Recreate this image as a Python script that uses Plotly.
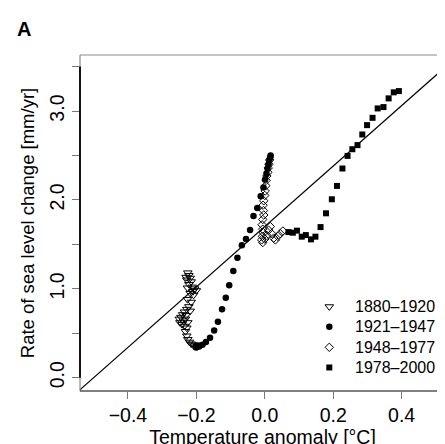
import plotly.graph_objects as go

# ---------------- data ----------------
# 1880-1920 (open down-triangles)
t1_x = [-0.225, -0.222, -0.218, -0.228, -0.215, -0.222, -0.212, -0.205, -0.210, -0.200,
        -0.218, -0.208, -0.230, -0.226,
        -0.222, -0.228, -0.218, -0.235, -0.240, -0.230, -0.245, -0.250, -0.238, -0.248,
        -0.242, -0.235, -0.228, -0.225, -0.232,
        -0.232, -0.228, -0.225, -0.220, -0.215, -0.210, -0.205, -0.198, -0.194, -0.188,
        -0.226, -0.215]
t1_y = [1.18, 1.15, 1.12, 1.10, 1.08, 1.05, 1.02, 1.00, 0.97, 0.98,
        0.95, 0.93, 1.13, 1.01,
        0.80, 0.77, 0.75, 0.74, 0.71, 0.70, 0.68, 0.66, 0.64, 0.62,
        0.60, 0.58, 0.56, 0.62, 0.66,
        0.52, 0.47, 0.43, 0.40, 0.38, 0.37, 0.36, 0.35, 0.36, 0.37,
        0.88, 0.85]

# 1921-1947 (filled circles)
t2_x = [-0.201, -0.192, -0.182, -0.172, -0.160, -0.148, -0.137, -0.125, -0.114, -0.104,
        -0.092, -0.080, -0.067, -0.055, -0.043, -0.033, -0.022, -0.012, -0.004, 0.001,
        0.005, 0.008, 0.011, 0.013, 0.015, 0.017, 0.016]
t2_y = [0.34, 0.35, 0.37, 0.40, 0.45, 0.53, 0.63, 0.77, 0.90, 1.04,
        1.20, 1.35, 1.49, 1.56, 1.66, 1.82, 1.91, 2.04, 2.14, 2.23,
        2.29, 2.35, 2.40, 2.44, 2.47, 2.50, 2.48]

# 1948-1977 (open diamonds)
t3_x = [0.014, 0.012, 0.010, 0.009, 0.006, 0.004, 0.003, 0.001, 0.000, -0.003,
        -0.005, -0.004, -0.003, -0.006, -0.008, -0.006, -0.004, -0.007, -0.009, -0.006,
        0.000, 0.006, 0.011, 0.016, 0.020, 0.026, 0.031, 0.038, 0.045, 0.053]
t3_y = [2.45, 2.40, 2.36, 2.31, 2.27, 2.22, 2.16, 2.10, 2.05, 1.99,
        1.94, 1.88, 1.83, 1.78, 1.72, 1.67, 1.63, 1.59, 1.55, 1.52,
        1.56, 1.60, 1.66, 1.70, 1.62, 1.57, 1.55, 1.59, 1.62, 1.65]

# 1978-2000 (filled squares)
t4_x = [0.069, 0.082, 0.094, 0.108, 0.120, 0.135, 0.148, 0.163, 0.179, 0.196,
        0.211, 0.227, 0.242, 0.256, 0.271, 0.285, 0.299, 0.315, 0.330, 0.347,
        0.362, 0.377, 0.392]
t4_y = [1.638, 1.631, 1.654, 1.586, 1.604, 1.556, 1.586, 1.694, 1.849, 2.007,
        2.157, 2.353, 2.495, 2.570, 2.616, 2.736, 2.841, 2.923, 3.029, 3.044,
        3.142, 3.210, 3.224]

# fitted line endpoints
fit_x = [-0.60, 0.60]
fit_y = [-0.34, 3.74]

series_names = ["1880\u20131920", "1921\u20131947", "1948\u20131977", "1978\u20132000"]

x_tick_vals = [-0.4, -0.2, 0.0, 0.2, 0.4]
y_tick_vals = [0.0, 0.5, 1.0, 1.5, 2.0, 2.5, 3.0, 3.5]
y_tick_text = ["0.0", "", "1.0", "", "2.0", "", "3.0", ""]

# ---------------- styling ----------------
FONT = "Liberation Sans, Arial, Helvetica, sans-serif"
styles = [
    dict(symbol="triangle-down-open", size=7.5, color="black", line=dict(width=1, color="black")),
    dict(symbol="circle", size=6.5, color="black"),
    dict(symbol="diamond-open", size=6.5, color="black", line=dict(width=1, color="black")),
    dict(symbol="square", size=6, color="black"),
]
data_sets = [(t1_x, t1_y), (t2_x, t2_y), (t3_x, t3_y), (t4_x, t4_y)]

fig = go.Figure()

fig.add_trace(go.Scatter(x=fit_x, y=fit_y, mode="lines",
                         line=dict(color="black", width=1.2), showlegend=False,
                         hoverinfo="skip"))

for (xs, ys), st, nm in zip(data_sets, styles, series_names):
    fig.add_trace(go.Scatter(x=xs, y=ys, mode="markers", name=nm,
                             marker=st, showlegend=False))

# manual legend on an overlay axis (0..1 in both directions)
leg_marker_x = 0.683
leg_text_x = 0.748
leg_rows_y = [0.251, 0.191, 0.130, 0.070]
for st, nm, yy in zip(styles, series_names, leg_rows_y):
    fig.add_trace(go.Scatter(x=[leg_marker_x], y=[yy], mode="markers", marker=st,
                             xaxis="x2", yaxis="y2", showlegend=False, hoverinfo="skip"))
    fig.add_annotation(x=leg_text_x, y=yy, xref="paper", yref="paper", text=nm,
                       showarrow=False, xanchor="left", yanchor="middle",
                       font=dict(family=FONT, size=16, color="black"))

# panel letter
fig.add_annotation(x=-0.178, y=1.116, xref="paper", yref="paper", text="<b>A</b>",
                   showarrow=False, xanchor="left", yanchor="top",
                   font=dict(family=FONT, size=20, color="black"))

# frame (grey) and R-style black axis lines
fig.add_shape(type="line", xref="paper", yref="paper", x0=0, x1=1.02, y0=1, y1=1,
              line=dict(color="#8a8a8a", width=1.2))
fig.add_shape(type="line", xref="paper", yref="paper", x0=0, x1=0, y0=0, y1=1,
              line=dict(color="#8a8a8a", width=1.2))
fig.add_shape(type="line", xref="paper", yref="paper", x0=0, x1=1.02, y0=0, y1=0,
              line=dict(color="black", width=1.2))
fig.add_shape(type="line", xref="paper", yref="y", x0=0, x1=0,
              y0=y_tick_vals[0], y1=y_tick_vals[-1],
              line=dict(color="black", width=1.8))

fig.update_layout(
    width=445, height=444,
    margin=dict(l=72, r=8, t=47, b=61),
    paper_bgcolor="white", plot_bgcolor="white",
    font=dict(family=FONT, color="black"),
    xaxis=dict(range=[-0.5402, 0.5268], tickvals=x_tick_vals, tickformat=".1f",
               ticks="outside", ticklen=7, tickwidth=1, tickcolor="#777777",
               showgrid=False, zeroline=False, showline=False,
               tickfont=dict(size=19.5),
               title=dict(text="Temperature anomaly [\u00b0C]", font=dict(size=19.5),
                          standoff=4)),
    yaxis=dict(range=[-0.150, 3.630], tickvals=y_tick_vals, ticktext=y_tick_text,
               ticks="outside", ticklen=7, tickwidth=1, tickcolor="#777777",
               tickangle=-90, showgrid=False, zeroline=False, showline=False,
               tickfont=dict(size=19.5),
               title=dict(text="Rate of sea level change [mm/yr]", font=dict(size=18.5),
                          standoff=6)),
    xaxis2=dict(overlaying="x", range=[0, 1], visible=False),
    yaxis2=dict(overlaying="y", range=[0, 1], visible=False),
)

fig.write_html("out.html")
